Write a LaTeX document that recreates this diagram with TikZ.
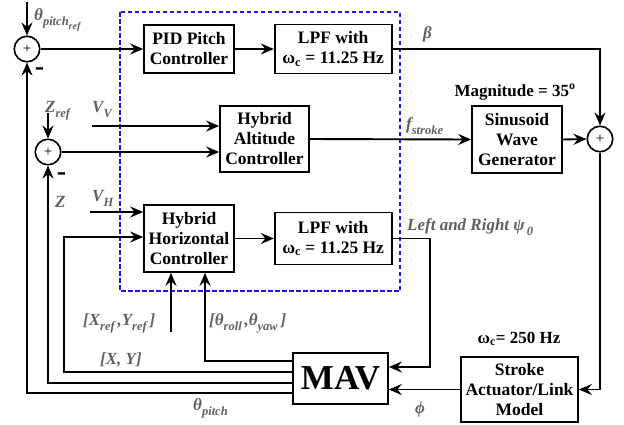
\documentclass[tikz,border=0pt]{standalone}
\usepackage{fontspec}
\setmainfont{Liberation Serif}
\usetikzlibrary{positioning,arrows.meta}
\definecolor{siggray}{RGB}{96,96,96}
\definecolor{loopblue}{RGB}{25,25,235}
\newcommand{\sigsub}[1]{\raisebox{-0.32em}{\fontsize{12.5}{12.5}\selectfont #1}}
\newcommand{\sigsubsub}[1]{\raisebox{-0.35em}{\fontsize{10}{10}\selectfont #1}}
\tikzset{block/.style={draw,line width=1.7pt,align=center,inner sep=0pt,
             font=\bfseries\fontsize{17.5}{20}\selectfont},
         sum/.style={circle,draw,line width=1.6pt,minimum size=25.5pt,inner sep=0pt,
             font=\fontsize{15}{15}\selectfont},
         sig/.style={inner sep=0pt,text=siggray,font=\bfseries\itshape\fontsize{17}{19}\selectfont},
         note/.style={inner sep=0pt,font=\bfseries\fontsize{17}{19}\selectfont},
         wire/.style={line width=1.9pt,-{Stealth[length=13pt,width=11pt,inset=4.5pt]}},
            }

\begin{document}
\begin{tikzpicture}[x=1pt,y=-1pt]
    \useasboundingbox (0,0) rectangle (624,424);

    % controller loop
    \draw[loopblue,line width=1.4pt,dash pattern=on 4.5pt off 2.5pt] (120,12) rectangle (400,291);

    \node[sum] (s1) at (27,49) {+};
    \node[sum] (s2) at (48,152) {+};
    \node[sum] (s3) at (600,139) {+};

    \node[block,minimum width=90pt,minimum height=48pt] (pid) at (189,49) {PID Pitch\\Controller};
    \node[block,minimum width=117pt,minimum height=49pt] (lpf1) [right=39pt of pid] {LPF with\\ω\textsubscript{c} = 11.25 Hz};
    \node[block,minimum width=89pt,minimum height=66pt] (hac) at (264.5,139) {Hybrid\\Altitude\\Controller};
    \node[block,minimum width=90pt,minimum height=67pt] (swg) at (517,139.5) {Sinusoid\\Wave\\Generator};
    \node[block,minimum width=90pt,minimum height=67pt] (hhc) at (189,238.5) {Hybrid\\Horizontal\\Controller};
    \node[block,minimum width=117pt,minimum height=52pt] (lpf2) [right=39pt of hhc] {LPF with\\ω\textsubscript{c} = 11.25 Hz};
    \node[block,minimum width=95pt,minimum height=51pt,font=\bfseries\fontsize{35}{35}\selectfont] (mav) at (340.5,378.5) {MAV};
    \node[block,minimum width=117pt,minimum height=65pt] (sam) at (519.5,389.5) {Stroke\\Actuator/Link\\Model};

    \node[note] (mag) at (515,96) [anchor=base] {Magnitude = 35\textsuperscript{o}};
    \node[note] (wc) at (519,343) [anchor=base] {ω\textsubscript{c}= 250 Hz};

    % free ends of the inputs
    \coordinate (pref) at (27,2);
    \coordinate (zref) at (48,113);
    \coordinate (vv) at (92,126);
    \coordinate (vh) at (90,212);
    \coordinate (xref) at (171,332);
    \coordinate (kpsi) at (430,367);

    \draw[wire] (pref) -- (s1.north);
    \draw[wire] (s1.east) -- (pid.west);
    \draw[wire] (pid) -- (lpf1);
    \draw[wire] (lpf1.east) -| (s3.north);
    \draw[wire] (zref) -- (s2.north);
    \draw[wire] (vv) -- (vv -| hac.west);
    \draw[wire] (s2.east) -- (s2.east -| hac.west);
    \draw[wire] (hac.east) -- (swg.west);
    \draw[wire] (swg.east) -- (s3.west);
    \draw[wire] (s3.south) |- (sam.east);
    \draw[wire] (sam.west) -- (sam.west -| mav.east);
    \draw[wire] (vh) -- (vh -| hhc.west);
    \draw[wire] (hhc) -- (lpf2);
    \draw[wire] (lpf2.east) -| (kpsi) -- (kpsi -| mav.east);
    \draw[wire] (xref) -- (xref |- hhc.south);

    % feedback from the MAV
    \draw[wire] ([yshift=17.5pt]mav.west) -| ([xshift=16pt]hhc.south);
    \draw[wire] ([yshift=6.5pt]mav.west) -- ++(-228,0) |- ([yshift=1.5pt]hhc.west);
    \draw[wire] ([yshift=-4.5pt]mav.west) -| (s2.south);
    \draw[wire] ([yshift=-14.5pt]mav.west) -| (s1.south);

    \node[note,font=\bfseries\fontsize{28}{28}\selectfont] (m1) at (39.5,72) {-};
    \node[note,font=\bfseries\fontsize{28}{28}\selectfont] (m2) at (61.5,177) {-};

    % signal names
    \node[sig,anchor=base west] (tpref) at (34,20) {θ\sigsub{pitch\sigsubsub{ref}}};
    \node[sig,anchor=base west] (lzref) at (45,112) {Z\sigsub{ref}};
    \node[sig,anchor=base west] (lvv) at (92,112) {V\sigsub{V}};
    \node[sig,anchor=base west] (lbeta) at (423,38) {β};
    \node[sig,anchor=base west] (lfs) at (406,129) {f\sigsub{stroke}};
    \node[sig,anchor=base west] (lz) at (55,207) {Z};
    \node[sig,anchor=base west] (lvh) at (92,201) {V\sigsub{H}};
    \node[sig,anchor=base west] (lpsi) at (407,230) {Left and Right ψ\sigsub{\,0}};
    \node[sig,anchor=base west] (lxref) at (83,325) {[X\sigsub{ref}\,,Y\sigsub{ref}\,]};
    \node[sig,anchor=base west] (lxy) at (100,364) {[X, Y]};
    \node[sig,anchor=base west] (lrpy) at (209,325) {[θ\sigsub{roll}\,,θ\sigsub{yaw}\,]};
    \node[sig,anchor=base west] (ltp) at (193,410) {θ\sigsub{pitch}};
    \node[sig,anchor=base west] (lphi) at (415,413) {ϕ};
\end{tikzpicture}
\end{document}
